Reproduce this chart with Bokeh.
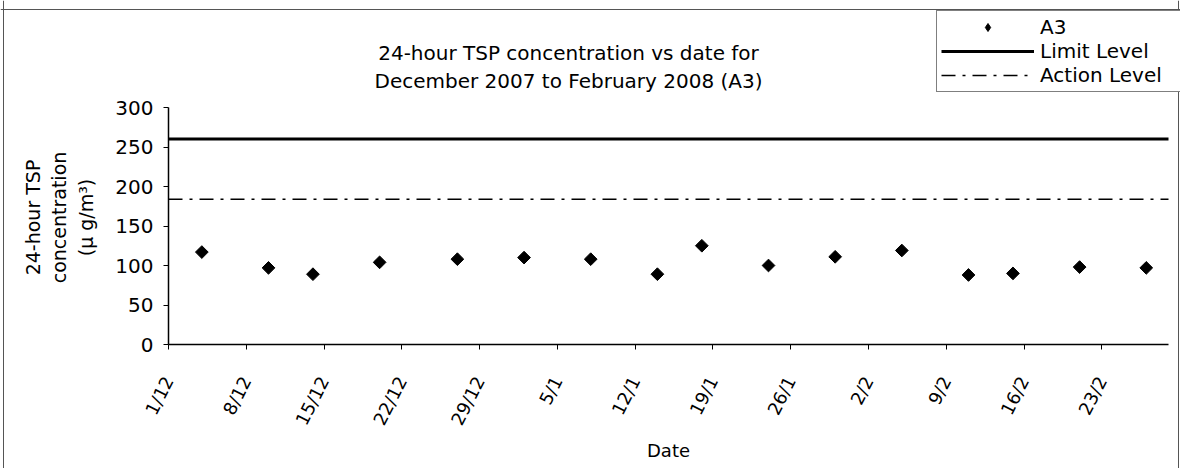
import numpy as np
import pandas as pd
from bokeh.plotting import figure
from bokeh.models import (Range1d, FixedTicker, Legend, LegendItem, Label, ColumnDataSource,
                          Span, LinearAxis)
from bokeh.embed import file_html
from bokeh.resources import INLINE

# ---- data ----
sample_dates = ["2007-12-04", "2007-12-10", "2007-12-14", "2007-12-20", "2007-12-27",
                "2008-01-02", "2008-01-08", "2008-01-14", "2008-01-18", "2008-01-24",
                "2008-01-30", "2008-02-05", "2008-02-11", "2008-02-15", "2008-02-21",
                "2008-02-27"]
tsp_a3 = [117, 97, 89, 104, 108, 110, 108, 89, 125, 100, 111, 119, 88, 90, 98, 97]
limit_level = 260
action_level = 184
axis_start = "2007-12-01"
axis_end = "2008-02-29"
tick_dates = ["2007-12-01", "2007-12-08", "2007-12-15", "2007-12-22", "2007-12-29",
              "2008-01-05", "2008-01-12", "2008-01-19", "2008-01-26", "2008-02-02",
              "2008-02-09", "2008-02-16", "2008-02-23"]
tick_labels = ["1/12", "8/12", "15/12", "22/12", "29/12", "5/1", "12/1", "19/1",
               "26/1", "2/2", "9/2", "16/2", "23/2"]
y_ticks = [0, 50, 100, 150, 200, 250, 300]
y_min, y_max = 0, 300
title_lines = ["24-hour TSP concentration vs date for",
               "December 2007 to February 2008 (A3)"]
y_title = "24-hour TSP\nconcentration\n(\u03bc g/m\u00b3)"


def to_ms(dates):
    return [float((pd.Timestamp(d) - pd.Timestamp("1970-01-01")) / pd.Timedelta("1ms")) for d in dates]


x_pts = to_ms(sample_dates)
x_ticks = to_ms(tick_dates)
x0, x1 = to_ms([axis_start, axis_end])

FONT = "DejaVu Sans"

# ---- layout (pixels) ----
W, H = 1180, 468
AX_LEFT, AX_BOTTOM = 168, 344     # where the axes cross on the canvas
AXIS_W, AXIS_H = 1000, 237        # drawn length of x and y axes
Y_TITLE_CENTER = 217              # canvas y of the y-axis title's centre
AX_TOP = AX_BOTTOM - AXIS_H


def px_to_x(px):
    return x0 + (px - AX_LEFT) * (x1 - x0) / AXIS_W


def px_to_y(py):
    return y_min + (AX_BOTTOM - py) * (y_max - y_min) / AXIS_H


# the plot frame covers the whole canvas; the axes are pinned at their crossing point
p = figure(width=W, height=H, output_backend="svg", toolbar_location=None,
           x_range=Range1d(px_to_x(0), px_to_x(W)), y_range=Range1d(px_to_y(H), px_to_y(0)),
           min_border=0, min_border_left=0, min_border_right=0, min_border_top=0,
           min_border_bottom=0)
p.outline_line_color = None
p.xgrid.grid_line_color = None
p.ygrid.grid_line_color = None
p.background_fill_color = "white"
p.border_fill_color = "white"

src = ColumnDataSource(dict(x=x_pts, y=tsp_a3))
r_pts = p.scatter(x="x", y="y", source=src, marker="square", angle=np.pi / 4, size=9,
                  fill_color="black", line_color="black")
# legend swatch for the points (drawn upright as a diamond, nothing plotted)
r_key = p.scatter(x=[np.nan], y=[np.nan], marker="diamond", size=13,
                  fill_color="black", line_color="black")
r_lim = p.line(x=[x0, x1], y=[limit_level, limit_level], line_width=3, line_color="black")
r_act = p.line(x=[x0, x1], y=[action_level, action_level], line_width=1.5,
               line_color="black", line_dash="14 7 3 7")

# axes
xa = p.xaxis[0]
xa.fixed_location = y_min
xa.ticker = FixedTicker(ticks=x_ticks)
xa.bounds = (x0, x1)
xa.major_label_overrides = {t: l for t, l in zip(x_ticks, tick_labels)}
xa.major_label_orientation = 1.1
xa.axis_label = "Date"
ya = p.yaxis[0]
ya.fixed_location = x0
ya.ticker = FixedTicker(ticks=y_ticks)
ya.bounds = (y_min, y_max)
for ax in (xa, ya):
    ax.minor_tick_line_color = None
    ax.major_tick_in = 0
    ax.major_tick_out = 5
    ax.axis_line_width = 1.5
    ax.axis_line_color = "black"
    ax.major_tick_line_color = "black"
    ax.major_label_text_font = FONT
    ax.major_label_text_color = "black"
xa.major_label_text_font_size = "18px"
ya.major_label_text_font_size = "20px"
xa.axis_label_text_font = FONT
xa.axis_label_text_font_style = "normal"
xa.axis_label_text_color = "black"
xa.axis_label_text_font_size = "18px"
xa.major_label_standoff = 28
xa.axis_label_standoff = 4
ya.major_label_standoff = 10

# y-axis title: carried by a bare companion axis so it can sit a little above centre
y_title_axis = LinearAxis(fixed_location=x0,
                          bounds=(px_to_y(2 * Y_TITLE_CENTER - AX_TOP), y_max),
                          ticker=FixedTicker(ticks=[]), axis_line_color=None,
                          major_tick_line_color=None, minor_tick_line_color=None,
                          axis_label=y_title, axis_label_standoff=72,
                          axis_label_text_font=FONT, axis_label_text_font_style="normal",
                          axis_label_text_font_size="19px", axis_label_text_color="black")
p.add_layout(y_title_axis, "left")

# outer chart-area border (left, top, right)
for loc, dim in ((px_to_x(3), "height"), (px_to_x(W - 2), "height"), (px_to_y(9), "width")):
    p.add_layout(Span(location=loc, dimension=dim, line_color="#555555", line_width=1))

# title (screen offsets from the canvas bottom-left corner)
for i, line in enumerate(title_lines):
    p.add_layout(Label(x=568, y=H - 52 - 28 * i, x_units="screen", y_units="screen", text=line,
                       text_align="center", text_baseline="middle", text_font=FONT,
                       text_font_size="20px", text_color="black"))

legend = Legend(items=[LegendItem(label="A3", renderers=[r_key]),
                       LegendItem(label="Limit Level", renderers=[r_lim]),
                       LegendItem(label="Action Level", renderers=[r_act])],
                location=(936, H - 92), padding=4, margin=0, spacing=-2,
                glyph_width=93, glyph_height=20, label_height=20, label_width=136,
                label_standoff=6, label_text_font=FONT, label_text_font_size="20px",
                label_text_color="black", border_line_color="black", border_line_width=1,
                background_fill_color="white", background_fill_alpha=1)
p.add_layout(legend)

open("out.html", "w").write(file_html(p, INLINE))
